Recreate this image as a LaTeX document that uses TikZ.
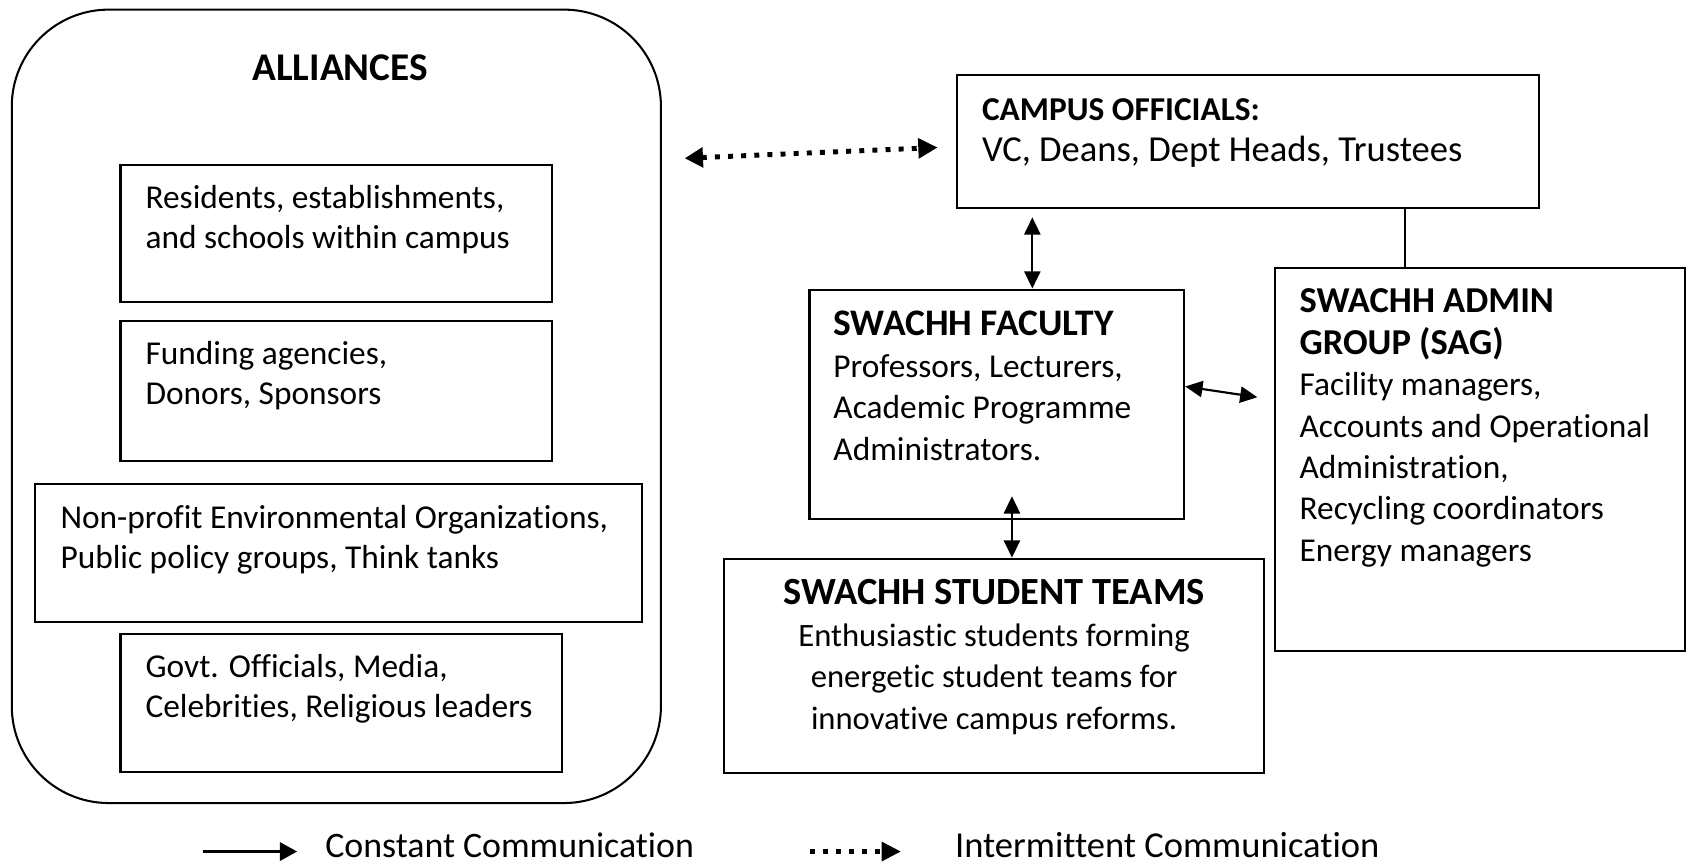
\documentclass[tikz,border=0pt]{standalone}
\usepackage{fontspec}
\setmainfont{Carlito}[Ligatures=NoCommon]
\usetikzlibrary{arrows.meta}
\usetikzlibrary{positioning}

\newcommand{\fsz}[2]{\fontsize{#1}{#2}\selectfont}

\begin{document}
\begin{tikzpicture}[x=1pt,y=-1pt,
    every node/.style={font=\fsz{31}{37}},
    frame/.style={draw, line width=1.9pt, inner sep=0pt, anchor=north west},
    words/.style={align=left, inner sep=0pt},
    wide/.style={font=\fsz{31}{38.5}},
    twoway/.style={{Triangle[length=16pt,width=15pt]}-{Triangle[length=16pt,width=15pt]}, line width=2pt},
    oneway/.style={-{Triangle[length=16pt,width=17pt]}, line width=2.3pt},
    dotty/.style={line width=4.6pt, dash pattern=on 4.6pt off 7.6pt},
    dotway/.style={dotty, {Triangle[length=17pt,width=18pt]}-{Triangle[length=18pt,width=18pt]}},
    dothead/.style={dotty, -{Triangle[length=18pt,width=17pt]}}]
\useasboundingbox (0,0) rectangle (1568,802);
% alliances
\node[frame, rounded corners=90pt, minimum width=603pt, minimum height=737pt] (alliances) at (10,8) {};
\node[font=\fsz{36.5}{40}\bfseries] (alltitle) at (316,63) {ALLIANCES};
\node[frame, minimum width=401pt, minimum height=128pt] (residents) at (111,152) {};
\node[words, below right=20pt and 24pt of residents.north west] (residentstxt) {Residents, establishments,\\and schools within campus};
\node[frame, minimum width=401pt, minimum height=130pt] (funding) at (111,297) {};
\node[words, below right=20pt and 24pt of funding.north west] (fundingtxt) {Funding agencies,\\Donors, Sponsors};
\node[frame, minimum width=563pt, minimum height=128pt] (nonprofit) at (32,449) {};
\node[words, below right=20pt and 24pt of nonprofit.north west] (nonprofittxt) {Non-profit Environmental Organizations,\\Public policy groups, Think tanks};
\node[frame, minimum width=410pt, minimum height=128pt] (govt) at (111,588) {};
\node[words, below right=20pt and 24pt of govt.north west] (govttxt) {Govt. Officials, Media,\\Celebrities, Religious leaders};
% campus side
\node[frame, minimum width=541pt, minimum height=123pt] (campus) at (888,69) {};
\node[words, wide, below right=22pt and 24pt of campus.north west] (campustxt) {\textbf{CAMPUS OFFICIALS:}\\{\fsz{34}{38.5}VC, Deans, Dept Heads, Trustees}};
\node[frame, minimum width=348pt, minimum height=213pt] (faculty) at (751,268) {};
\node[words, wide, below right=21pt and 23pt of faculty.north west] (facultytxt) {{\fsz{34.8}{38.5}\bfseries SWACHH FACULTY}\\Professors, Lecturers,\\Academic Programme\\Administrators.};
\node[frame, minimum width=381pt, minimum height=356pt] (sag) at (1183,248) {};
\node[words, wide, below right=20pt and 24pt of sag.north west] (sagtxt) {{\fsz{33.9}{38.5}\bfseries SWACHH ADMIN}\\{\fsz{33.9}{38.5}\bfseries GROUP (SAG)}\\Facility managers,\\Accounts and Operational\\Administration,\\Recycling coordinators\\Energy managers};
\node[frame, minimum width=501pt, minimum height=199pt] (students) at (672,518) {};
\node[words, align=center, font=\fsz{30.3}{38.6}, below=20pt of students.north] (studentstxt) {{\fsz{35.7}{38.6}\bfseries SWACHH STUDENT TEAMS}\\Enthusiastic students forming\\energetic student teams for\\innovative campus reforms.};
% links
\coordinate (dotL) at (636,147);
\coordinate (dotR) at (871,137);
\draw[dotway] (dotL) -- (dotR);
\draw[twoway, shorten <=8pt] ([xshift=33]faculty.north |- campus.south) -- ([xshift=33]faculty.north);
\draw[line width=1.9pt] ([xshift=-69.5]sag.north) -- ([xshift=-69.5]sag.north |- campus.south);
\coordinate (fsL) at (1101,359);
\coordinate (fsR) at (1168,369);
\draw[twoway] (fsL) -- (fsR);
\coordinate (stuTop) at (940,461);
\draw[twoway] (stuTop) -- (stuTop |- students.north);
% legend
\coordinate (solidA) at (189,791);
\coordinate (solidB) at (276,791);
\draw[oneway] (solidA) -- (solidB);
\node[anchor=west, inner sep=0pt, font=\fsz{33.3}{40}] (constant) at (302,785) {Constant Communication};
\coordinate (dotA) at (752,791);
\coordinate (dotB) at (837,791);
\draw[dothead] (dotA) -- (dotB);
\node[anchor=west, inner sep=0pt, font=\fsz{33.9}{40}] (intermittent) at (887,785) {Intermittent Communication};
\end{tikzpicture}
\end{document}
